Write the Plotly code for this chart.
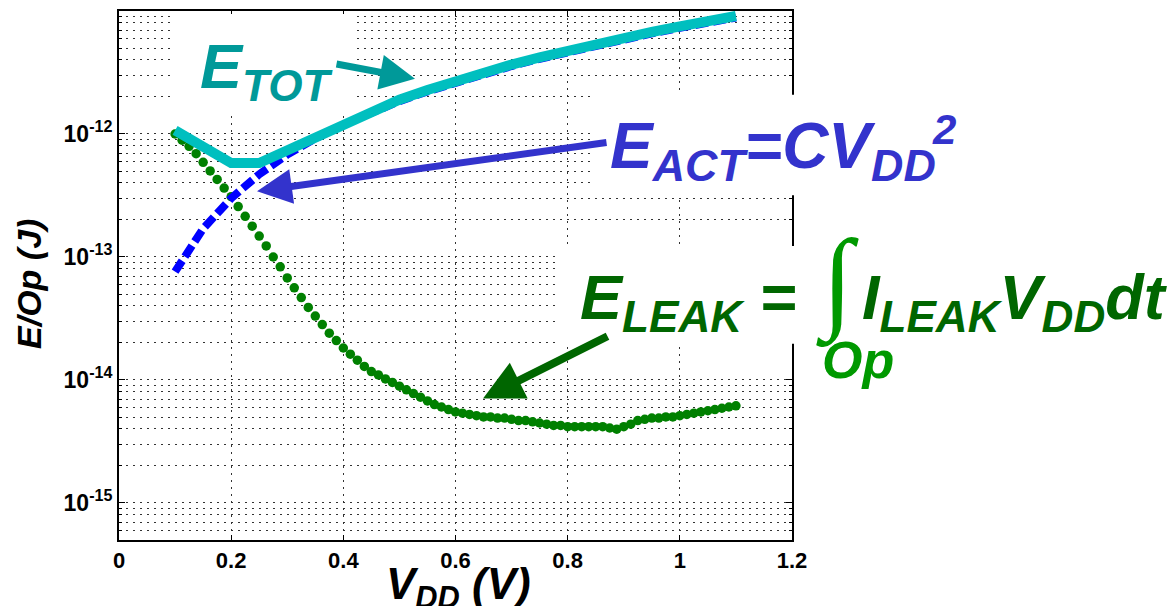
import plotly.graph_objects as go

# ---------------- data ----------------
# E_LEAK: dotted green series, sampled every 0.0125 V from 0.1 V to 1.1 V
V_leak = [round(0.1 + 0.0125 * i, 4) for i in range(81)]
E_leak = [
    1.00e-12, 8.91e-13, 7.94e-13, 6.92e-13, 5.89e-13, 5.01e-13, 4.27e-13, 3.63e-13,
    3.09e-13, 2.57e-13, 2.14e-13, 1.78e-13, 1.48e-13, 1.23e-13, 1.00e-13, 8.32e-14,
    6.76e-14, 5.62e-14, 4.68e-14, 3.89e-14, 3.31e-14, 2.82e-14, 2.40e-14, 2.09e-14,
    1.82e-14, 1.62e-14, 1.45e-14, 1.29e-14, 1.17e-14, 1.10e-14, 1.02e-14, 9.55e-15,
    8.91e-15, 8.32e-15, 7.76e-15, 7.24e-15, 6.76e-15, 6.31e-15, 6.03e-15, 5.75e-15,
    5.50e-15, 5.37e-15, 5.25e-15, 5.13e-15, 5.01e-15, 5.01e-15, 4.90e-15, 4.90e-15,
    4.79e-15, 4.68e-15, 4.68e-15, 4.57e-15, 4.47e-15, 4.37e-15, 4.27e-15, 4.27e-15,
    4.17e-15, 4.17e-15, 4.17e-15, 4.17e-15, 4.17e-15, 4.17e-15, 4.07e-15, 3.98e-15,
    4.17e-15, 4.37e-15, 4.68e-15, 4.79e-15, 4.90e-15, 4.90e-15, 5.01e-15, 5.01e-15,
    5.13e-15, 5.25e-15, 5.37e-15, 5.50e-15, 5.62e-15, 5.75e-15, 5.89e-15, 6.03e-15,
    6.17e-15,
]

# E_ACT = C*VDD^2: dashed blue series
V_act = [0.10, 0.15, 0.20, 0.25, 0.30, 0.35, 0.40, 0.45, 0.50, 0.55, 0.60,
         0.65, 0.70, 0.75, 0.80, 0.85, 0.90, 0.95, 1.00, 1.05, 1.10]
E_act = [7.6e-14, 1.7e-13, 3.0e-13, 4.7e-13, 6.8e-13, 9.2e-13, 1.19e-12, 1.5e-12,
         1.85e-12, 2.22e-12, 2.63e-12, 3.08e-12, 3.57e-12, 4.09e-12, 4.65e-12,
         5.25e-12, 5.9e-12, 6.58e-12, 7.3e-12, 8.05e-12, 8.85e-12]

# E_TOT: thick cyan series
V_tot = [0.10, 0.20, 0.25, 0.30, 0.35, 0.40, 0.45, 0.50, 0.55, 0.60, 0.65,
         0.70, 0.75, 0.80, 0.85, 0.90, 0.95, 1.00, 1.05, 1.10]
E_tot = [1.07e-12, 5.8e-13, 5.8e-13, 7.4e-13, 9.6e-13, 1.22e-12, 1.54e-12,
         1.9e-12, 2.28e-12, 2.7e-12, 3.17e-12, 3.67e-12, 4.2e-12, 4.78e-12,
         5.4e-12, 6.05e-12, 6.75e-12, 7.5e-12, 8.27e-12, 9.1e-12]

x_tickvals = [0, 0.2, 0.4, 0.6, 0.8, 1.0, 1.2]
x_ticktext = ["0", "0.2", "0.4", "0.6", "0.8", "1", "1.2"]
y_tickvals = [1e-15, 1e-14, 1e-13, 1e-12]
y_ticktext = ["10<sup>-15</sup>", "10<sup>-14</sup>", "10<sup>-13</sup>", "10<sup>-12</sup>"]

# ---------------- layout geometry ----------------
W, H = 1176, 606
L, R, T, B = 119, 792, 9, 540


def fx(p):
    return (p - L) / (R - L)


def fy(p):
    return (B - p) / (B - T)


FONT = "Liberation Sans, Arial, sans-serif"
TEAL = "rgb(0,153,153)"
CYAN = "rgb(0,191,191)"
BLUE_TXT = "rgb(51,51,204)"
BLUE = "rgb(0,0,255)"
DKGREEN = "rgb(0,102,0)"
BRGREEN = "rgb(0,153,0)"
GREEN = "rgb(0,128,0)"

fig = go.Figure()
fig.add_trace(go.Scatter(x=V_leak, y=E_leak, mode="markers",
                         marker=dict(size=9.5, color=GREEN, line=dict(width=0)),
                         name="E_LEAK"))
fig.add_trace(go.Scatter(x=V_act, y=E_act, mode="lines",
                         line=dict(color=BLUE, width=8, dash="13px,5px"),
                         name="E_ACT"))
fig.add_trace(go.Scatter(x=V_tot, y=E_tot, mode="lines",
                         line=dict(color=CYAN, width=10),
                         name="E_TOT"))

grid_common = dict(gridcolor="#333", gridwidth=1, griddash="2px,5px")

fig.update_xaxes(range=[0, 1.2], tickvals=x_tickvals, ticktext=x_ticktext,
                 showline=True, linecolor="black", linewidth=2, mirror="allticks",
                 ticks="inside", ticklen=5, tickcolor="black", zeroline=False,
                 showgrid=True, **grid_common,
                 tickfont=dict(family=FONT, size=22, color="black", weight="bold"))
fig.update_yaxes(type="log", range=[-15.30103, -11], tickvals=y_tickvals,
                 ticktext=y_ticktext,
                 showline=True, linecolor="black", linewidth=2, mirror="allticks",
                 ticks="inside", ticklen=6, tickcolor="black", zeroline=False,
                 showgrid=True, **grid_common,
                 minor=dict(dtick="D1", showgrid=True, ticks="inside", ticklen=3,
                            tickcolor="black", gridcolor="#333", griddash="2px,5px"),
                 tickfont=dict(family=FONT, size=23, color="black", weight="bold"))

shapes = []
for (x0, y0, x1, y1) in [(175, 12, 353, 110), (590, 93, 965, 194), (558, 245, 1176, 343)]:
    shapes.append(dict(type="rect", xref="paper", yref="paper",
                       x0=fx(x0), x1=fx(x1), y0=fy(y1), y1=fy(y0),
                       fillcolor="white", line=dict(width=0), layer="above"))

ann = []


def txt(text, left, top, size, color, family=FONT, **kw):
    d = dict(text=text, xref="paper", yref="paper", x=fx(left), y=fy(top),
             xanchor="left", yanchor="top", showarrow=False,
             font=dict(family=family, size=size, color=color))
    d.update(kw)
    ann.append(d)


def arrow(tip, tail, color, width):
    ann.append(dict(text="", xref="paper", yref="paper", x=fx(tip[0]), y=fy(tip[1]),
                    axref="pixel", ayref="pixel", ax=tail[0] - tip[0], ay=tail[1] - tip[1],
                    showarrow=True, arrowhead=2, arrowsize=1.0, arrowwidth=width,
                    arrowcolor=color))


# E_TOT label
txt("<b><i>E<sub>TOT</sub></i></b>", 198, 27, 63, TEAL)
arrow((415, 77), (335, 62), TEAL, 7)

# E_ACT label
txt("<b><i>E<sub>ACT</sub>=CV<sub>DD</sub></i></b>", 608, 106, 64, BLUE_TXT)
txt("<b><i>2</i></b>", 930, 102, 42, BLUE_TXT)
arrow((257, 190), (608, 141), BLUE_TXT, 7)

# E_LEAK label
txt("<b><i>E<sub>LEAK</sub> =</i></b>", 578, 259, 63, DKGREEN)
txt("∫", 814, 214, 112, BRGREEN, family="Liberation Serif, serif")
txt("<b><i>Op</i></b>", 820, 328, 52, BRGREEN)
txt("<b><i>I<sub>LEAK</sub>V<sub>DD</sub>dt</i></b>", 860, 259, 63, DKGREEN)
arrow((483, 398), (609, 335), DKGREEN, 8)

# axis titles
txt("<b><i>V<sub>DD</sub> (V)</i></b>", 384, 557, 44, "black")
ann.append(dict(text="<b><i>E/Op (J)</i></b>", xref="paper", yref="paper",
                x=fx(29), y=fy(283), xanchor="center", yanchor="middle",
                textangle=-90, showarrow=False,
                font=dict(family=FONT, size=34, color="black")))

fig.update_layout(width=W, height=H, margin=dict(l=L, r=W - R, t=T, b=H - B),
                  paper_bgcolor="white", plot_bgcolor="white", showlegend=False,
                  shapes=shapes, annotations=ann)

fig.write_html("out.html")
